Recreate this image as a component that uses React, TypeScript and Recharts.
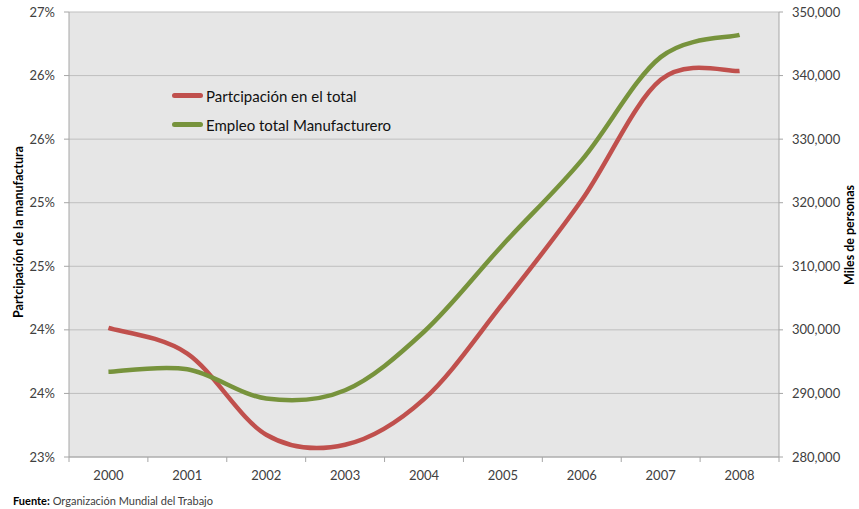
import React from "react";
import {
  LineChart,
  Line,
  XAxis,
  YAxis,
  CartesianGrid,
  Legend,
  Label,
} from "recharts";

const years = ["2000", "2001", "2002", "2003", "2004", "2005", "2006", "2007", "2008"];
// participación de la manufactura en el empleo total (%)
const participacion = [24.16, 23.93, 23.2, 23.11, 23.52, 24.38, 25.31, 26.39, 26.47];
// empleo total manufacturero (personas)
const empleo = [293400, 293800, 289200, 290500, 299700, 313400, 326700, 342900, 346400];

const seriesNames = ["Partcipación en el total", "Empleo total Manufacturero"];
const seriesColors = ["#c0504d", "#77933c"];

const leftTickLabels = ["23%", "24%", "24%", "25%", "25%", "26%", "26%", "27%"];
const rightTickValues = [280000, 290000, 300000, 310000, 320000, 330000, 340000, 350000];

const W = 859;
const H = 509;
const PLOT_LEFT = 69;
const PLOT_RIGHT = 779;
const BAND = (PLOT_RIGHT - PLOT_LEFT) / years.length;
const FONT = "Lato, 'Open Sans', sans-serif";

const data = years.map((year, i) => ({
  idx: i,
  year,
  part: participacion[i],
  empleo: empleo[i],
}));

const leftTicks = leftTickLabels.map((_, i) => 23 + (i * 4) / (leftTickLabels.length - 1));

// Excel-style smoothing (Catmull-Rom through every point)
const excelSmooth = (context: any) => {
  let pts: number[][] = [];
  return {
    areaStart() {},
    areaEnd() {},
    lineStart() {
      pts = [];
    },
    point(x: number, y: number) {
      pts.push([+x, +y]);
    },
    lineEnd() {
      const n = pts.length;
      if (!n) return;
      context.moveTo(pts[0][0], pts[0][1]);
      for (let i = 0; i < n - 1; i++) {
        const p0 = pts[Math.max(i - 1, 0)];
        const p1 = pts[i];
        const p2 = pts[i + 1];
        const p3 = pts[Math.min(i + 2, n - 1)];
        context.bezierCurveTo(
          p1[0] + (p2[0] - p0[0]) / 6,
          p1[1] + (p2[1] - p0[1]) / 6,
          p2[0] - (p3[0] - p1[0]) / 6,
          p2[1] - (p3[1] - p1[1]) / 6,
          p2[0],
          p2[1]
        );
      }
    },
  };
};

const YearTick = (props: any) => {
  const { x, y, payload, index } = props;
  const last = index === years.length - 1;
  return (
    <g>
      <line x1={x - BAND / 2} x2={x - BAND / 2} y1={y} y2={y + 5} stroke="#a6a6a6" />
      {last && <line x1={x + BAND / 2} x2={x + BAND / 2} y1={y} y2={y + 5} stroke="#a6a6a6" />}
      <text x={x} y={y + 23} textAnchor="middle" fill="#404040" fontSize={13} fontFamily={FONT}>
        {years[payload.value]}
      </text>
    </g>
  );
};

const LegendBox = () => (
  <div style={{ fontFamily: FONT, fontSize: 15, color: "#111" }}>
    {seriesNames.map((name, i) => (
      <div key={name} style={{ display: "flex", alignItems: "center", height: 29 }}>
        <span
          style={{
            display: "inline-block",
            width: 31,
            height: 5,
            borderRadius: 3,
            background: seriesColors[i],
            marginRight: 3,
          }}
        />
        <span>{name}</span>
      </div>
    ))}
  </div>
);

export default function App() {
  return (
    <div style={{ position: "absolute", left: 0, top: 0, width: W, height: H, background: "#fff" }}>
      <LineChart width={W} height={H} data={data} margin={{ top: 12, right: 0, bottom: 22, left: 0 }}>
        <CartesianGrid yAxisId="left" vertical={false} fill="#e6e6e6" stroke="#bfbfbf" fillOpacity={1} />
        <XAxis
          dataKey="idx"
          type="number"
          domain={[-0.5, years.length - 0.5]}
          ticks={years.map((_, i) => i)}
          interval={0}
          height={30}
          tickSize={0}
          tickMargin={0}
          tickLine={false}
          axisLine={{ stroke: "#a6a6a6" }}
          tick={<YearTick />}
        />
        <YAxis
          yAxisId="left"
          domain={[23, 27]}
          ticks={leftTicks}
          interval={0}
          width={PLOT_LEFT}
          tickSize={5}
          tickMargin={9}
          tickLine={{ stroke: "#a6a6a6" }}
          axisLine={{ stroke: "#a6a6a6" }}
          tickFormatter={(_v: number, i: number) => leftTickLabels[i]}
          tick={{ fill: "#404040", fontSize: 13, fontFamily: FONT }}
        >
          <Label
            content={() => (
              <text
                x={18}
                y={232}
                transform="rotate(-90 18 232)"
                textAnchor="middle"
                dominantBaseline="central"
                fontWeight="bold"
                fontSize={12.5}
                fontFamily={FONT}
                fill="#000"
              >
                Partcipación de la manufactura
              </text>
            )}
          />
        </YAxis>
        <YAxis
          yAxisId="right"
          orientation="right"
          domain={[280000, 350000]}
          ticks={rightTickValues}
          interval={0}
          width={W - PLOT_RIGHT}
          tickSize={4}
          tickMargin={9}
          tickLine={{ stroke: "#a6a6a6" }}
          axisLine={{ stroke: "#a6a6a6" }}
          tickFormatter={(v: number) => v.toLocaleString("en-US")}
          tick={{ fill: "#404040", fontSize: 13, fontFamily: FONT, textAnchor: "start" }}
        >
          <Label
            content={() => (
              <text
                x={849}
                y={235}
                transform="rotate(-90 849 235)"
                textAnchor="middle"
                dominantBaseline="central"
                fontWeight="bold"
                fontSize={12.5}
                fontFamily={FONT}
                fill="#000"
              >
                Miles de personas
              </text>
            )}
          />
        </YAxis>
        <Legend
          layout="vertical"
          align="center"
          verticalAlign="middle"
          wrapperStyle={{ left: 172, top: 81, width: 280, height: 60 }}
          content={() => <LegendBox />}
        />
        <Line
          yAxisId="left"
          dataKey="part"
          name={seriesNames[0]}
          type={excelSmooth as any}
          stroke={seriesColors[0]}
          strokeWidth={4.5}
          dot={false}
          activeDot={false}
          isAnimationActive={false}
        />
        <Line
          yAxisId="right"
          dataKey="empleo"
          name={seriesNames[1]}
          type={excelSmooth as any}
          stroke={seriesColors[1]}
          strokeWidth={4.5}
          dot={false}
          activeDot={false}
          isAnimationActive={false}
        />
      </LineChart>
      <div
        style={{
          position: "absolute",
          left: 13,
          top: 494,
          fontFamily: FONT,
          fontSize: 11,
          color: "#404040",
          whiteSpace: "nowrap",
        }}
      >
        <b style={{ color: "#000" }}>Fuente:</b> Organización Mundial del Trabajo
      </div>
    </div>
  );
}
